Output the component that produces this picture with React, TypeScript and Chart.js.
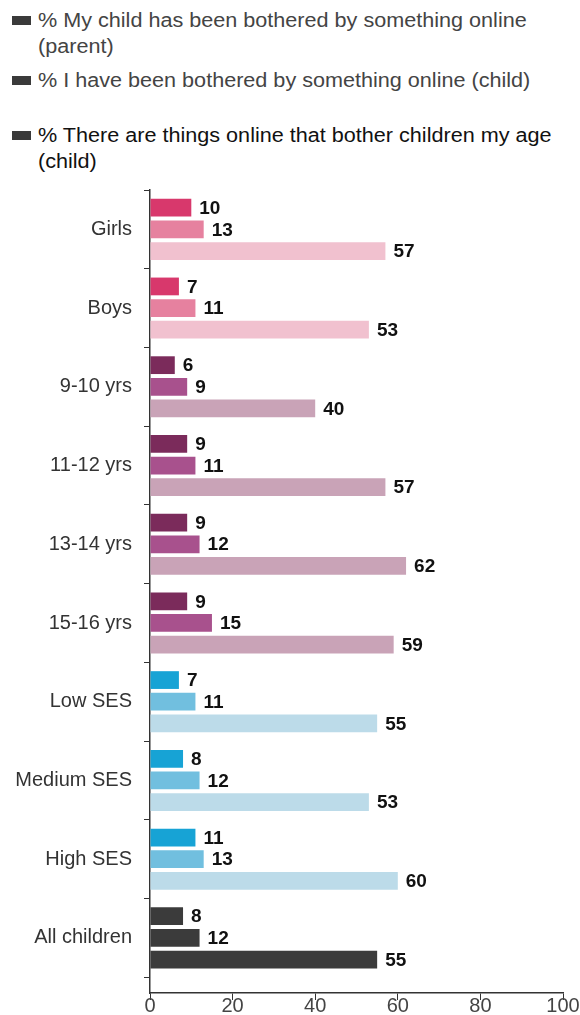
import React, { useEffect, useRef } from "react";
import { Chart, registerables } from "chart.js";

Chart.register(...registerables);

const categories = [
  "Girls",
  "Boys",
  "9-10 yrs",
  "11-12 yrs",
  "13-14 yrs",
  "15-16 yrs",
  "Low SES",
  "Medium SES",
  "High SES",
  "All children",
];

const seriesLabels = [
  "% My child has been bothered by something online (parent)",
  "% I have been bothered by something online (child)",
  "% There are things online that bother children my age (child)",
];

const parentBothered = [10, 7, 6, 9, 9, 9, 7, 8, 11, 8];
const childBothered = [13, 11, 9, 11, 12, 15, 11, 12, 13, 12];
const childOthers = [57, 53, 40, 57, 62, 59, 55, 53, 60, 55];

const xTicks = [0, 20, 40, 60, 80, 100];

const pink = ["#d8386c", "#e6819f", "#f1c1cf"];
const plum = ["#7b2b5b", "#a8518d", "#c9a3b7"];
const blue = ["#17a3d5", "#71bfdf", "#bcdbe9"];
const dark = ["#3b3b3b", "#3b3b3b", "#3b3b3b"];
const groupPalette = [pink, pink, plum, plum, plum, plum, blue, blue, blue, dark];

const FONT = "'Liberation Sans', Arial, sans-serif";

const valueLabels = {
  id: "valueLabels",
  afterDatasetsDraw(chart: any) {
    const ctx = chart.ctx;
    ctx.save();
    ctx.font = `bold 19px ${FONT}`;
    ctx.fillStyle = "#111";
    ctx.textAlign = "left";
    ctx.textBaseline = "middle";
    chart.data.datasets.forEach((ds: any, di: number) => {
      const meta = chart.getDatasetMeta(di);
      meta.data.forEach((bar: any, i: number) => {
        ctx.fillText(String(ds.data[i]), bar.x + 8, bar.y + 1);
      });
    });
    ctx.restore();
  },
};

function LegendItem({ top, lines, color }: { top: number; lines: string[]; color: string }) {
  return (
    <div style={{ position: "absolute", left: 0, top, width: 580 }}>
      <div
        style={{
          position: "absolute",
          left: 12,
          top: 9,
          width: 19,
          height: 9,
          background: "#3a3a3a",
        }}
      />
      <div
        style={{
          position: "absolute",
          left: 38,
          top: 0,
          fontFamily: FONT,
          fontSize: 20,
          lineHeight: "26px",
          color,
          whiteSpace: "nowrap",
          transform: "scaleX(1.08)",
          transformOrigin: "left top",
        }}
      >
        {lines.map((l, i) => (
          <div key={i}>{l}</div>
        ))}
      </div>
    </div>
  );
}

export default function App() {
  const ref = useRef<HTMLCanvasElement>(null);

  useEffect(() => {
    if (!ref.current) return;
    const series = [parentBothered, childBothered, childOthers];
    const chart = new Chart(ref.current, {
      type: "bar",
      data: {
        labels: categories,
        datasets: series.map((data, si) => ({
          label: seriesLabels[si],
          data,
          backgroundColor: groupPalette.map((p) => p[si]),
          categoryPercentage: 0.825,
          barPercentage: 0.82,
        })),
      },
      options: {
        indexAxis: "y",
        responsive: false,
        animation: false,
        devicePixelRatio: 1,
        layout: { padding: { top: 10, right: 17, left: 0, bottom: 0 } },
        plugins: {
          legend: { display: false },
          tooltip: { enabled: false },
        },
        scales: {
          x: {
            min: 0,
            max: 100,
            afterBuildTicks: (s: any) => {
              s.ticks = xTicks.map((v) => ({ value: v }));
            },
            ticks: {
              font: { family: FONT, size: 20 },
              color: "#444",
              padding: -6,
              maxRotation: 0,
            },
            grid: {
              drawOnChartArea: false,
              tickLength: 7,
              color: "#333",
              lineWidth: 1,
            },
            border: { color: "#333", width: 1.5 },
            afterFit: (s: any) => {
              s.height = 22;
              s.paddingLeft = 0;
              s.paddingRight = 0;
            },
          },
          y: {
            ticks: {
              font: { family: FONT, size: 20 },
              color: "#333",
              padding: 12,
            },
            grid: {
              drawOnChartArea: false,
              tickLength: 6,
              color: "#333",
              offset: true,
            },
            border: { color: "#333", width: 1.5 },
            afterBuildTicks: (s: any) => {
              // leave a small empty band between the last group and the x axis
              s._valueRange = categories.length + 0.2;
            },
            afterFit: (s: any) => {
              s.width = 150;
              s.paddingTop = 0;
              s.paddingBottom = 0;
            },
          },
        },
      },
      plugins: [valueLabels],
    });
    return () => chart.destroy();
  }, []);

  return (
    <div
      style={{
        position: "absolute",
        left: 0,
        top: 0,
        width: 580,
        height: 1015,
        background: "#fff",
        overflow: "hidden",
      }}
    >
      <LegendItem
        top={7}
        color="#444"
        lines={["% My child has been bothered by something online", "(parent)"]}
      />
      <LegendItem
        top={67}
        color="#444"
        lines={["% I have been bothered by something online (child)"]}
      />
      <LegendItem
        top={122}
        color="#111"
        lines={["% There are things online that bother children my age", "(child)"]}
      />
      <canvas
        ref={ref}
        width={580}
        height={835}
        style={{ position: "absolute", left: 0, top: 180, width: 580, height: 835 }}
      />
    </div>
  );
}
